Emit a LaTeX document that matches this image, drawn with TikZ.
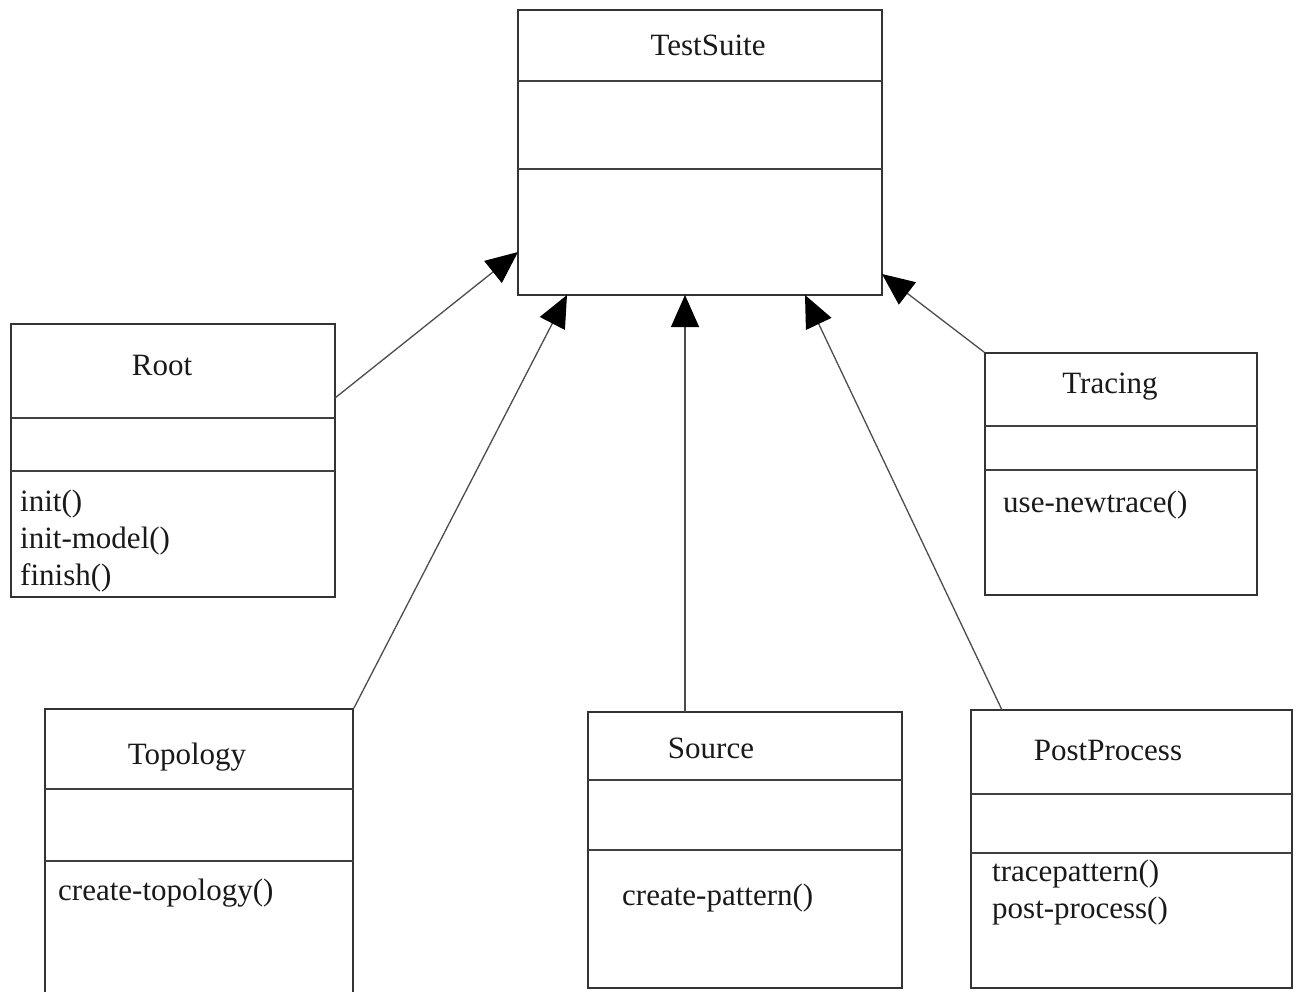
\documentclass[tikz,border=0pt]{standalone}
\usepackage{fontspec}
\setmainfont{Liberation Serif}
\usetikzlibrary{arrows.meta}
\begin{document}
\begin{tikzpicture}[x=1pt,y=-1pt,
  classbox/.style={draw=black!80, line width=1.8pt, inner sep=0pt},
  divider/.style={draw=black!75, line width=1.8pt},
  title/.style={font=\fontsize{31}{37}\selectfont, text=black!90, inner sep=0pt},
  meth/.style={font=\fontsize{31}{37}\selectfont, text=black!90, inner sep=0pt, anchor=west, align=left},
  inh/.style={draw=black!70, line width=1.3pt, -{Triangle[length=32pt,width=28pt,fill=black,color=black]}}]
\useasboundingbox (0,0) rectangle (1300,991);

% TestSuite
\node[classbox, minimum width=364pt, minimum height=285pt] (ts) at (700,152.5) {};
\draw[divider] (518,81) -- (882,81);
\draw[divider] (518,169) -- (882,169);
\node[title] (tsT) at (708,45) {TestSuite};

% Root
\node[classbox, minimum width=324pt, minimum height=273pt] (root) at (173,460.5) {};
\draw[divider] (11,418) -- (335,418);
\draw[divider] (11,471) -- (335,471);
\node[title] (rootT) at (162,365) {Root};
\node[meth] (rootM) at (20,541) {init()\\init-model()\\finish()};

% Tracing
\node[classbox, minimum width=272pt, minimum height=242pt] (tr) at (1121,474) {};
\draw[divider] (985,426) -- (1257,426);
\draw[divider] (985,470) -- (1257,470);
\node[title] (trT) at (1110,387) {Tracing};
\node[meth] (trM) at (1003,505) {use-newtrace()};

% Topology
\node[classbox, minimum width=308pt, minimum height=301pt] (topo) at (199,859.5) {};
\draw[divider] (45,789) -- (353,789);
\draw[divider] (45,861) -- (353,861);
\node[title] (topoT) at (187,757) {Topology};
\node[meth] (topoM) at (58,893) {create-topology()};

% Source
\node[classbox, minimum width=314pt, minimum height=276pt] (src) at (745,850) {};
\draw[divider] (588,780) -- (902,780);
\draw[divider] (588,850) -- (902,850);
\node[title] (srcT) at (711,748) {Source};
\node[meth] (srcM) at (622,898) {create-pattern()};

% PostProcess
\node[classbox, minimum width=321pt, minimum height=278pt] (pp) at (1131.5,849) {};
\draw[divider] (971,794) -- (1292,794);
\draw[divider] (971,853) -- (1292,853);
\node[title] (ppT) at (1108,750) {PostProcess};
\node[meth] (ppM) at (992,893) {tracepattern()\\post-process()};

% connector end points
\coordinate (tsL) at (518,252);
\coordinate (tsS1) at (567,295);
\coordinate (tsS2) at (685,295);
\coordinate (tsS3) at (805,295);
\coordinate (tsR) at (882,274);
\coordinate (rootP) at (335,398);
\coordinate (srcP) at (685,712);
\coordinate (ppP) at (1002,710);

\draw[inh] (rootP) -- (tsL);
\draw[inh] (topo.north east) -- (tsS1);
\draw[inh] (srcP) -- (tsS2);
\draw[inh] (ppP) -- (tsS3);
\draw[inh] (tr.north west) -- (tsR);
\end{tikzpicture}
\end{document}
